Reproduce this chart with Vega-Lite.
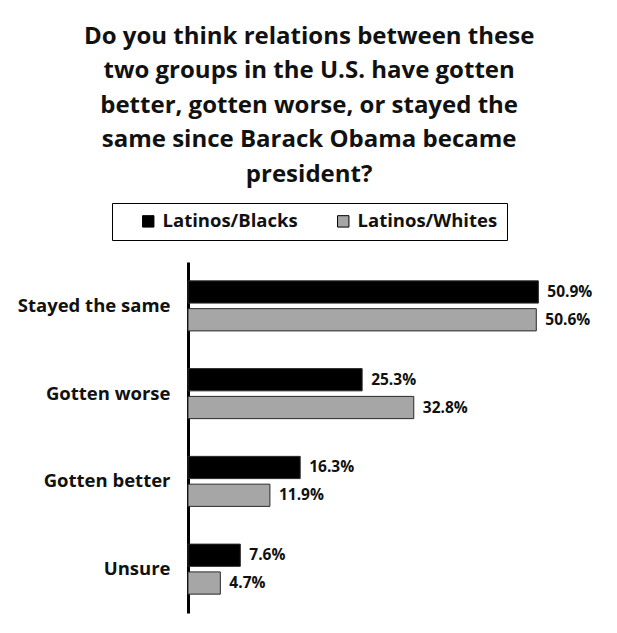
{
  "$schema": "https://vega.github.io/schema/vega-lite/v6.json",
  "width": 413,
  "height": 351,
  "padding": {"left": 17, "top": 24, "right": 5, "bottom": 5},
  "background": "white",
  "title": {
    "text": ["Do you think relations between these", "two groups in the U.S. have gotten", "better, gotten worse, or stayed the", "same since Barack Obama became", "president?"],
    "font": "Open Sans",
    "fontSize": 24,
    "fontWeight": "bold",
    "lineHeight": 34.5,
    "color": "#111111",
    "anchor": "middle",
    "frame": "bounds",
    "offset": 16
  },
  "data": {
    "values": [
      {"response": "Stayed the same", "group": "Latinos/Blacks", "value": 0.509},
      {"response": "Stayed the same", "group": "Latinos/Whites", "value": 0.506},
      {"response": "Gotten worse", "group": "Latinos/Blacks", "value": 0.253},
      {"response": "Gotten worse", "group": "Latinos/Whites", "value": 0.328},
      {"response": "Gotten better", "group": "Latinos/Blacks", "value": 0.163},
      {"response": "Gotten better", "group": "Latinos/Whites", "value": 0.119},
      {"response": "Unsure", "group": "Latinos/Blacks", "value": 0.076},
      {"response": "Unsure", "group": "Latinos/Whites", "value": 0.047}
    ]
  },
  "encoding": {
    "y": {
      "field": "response",
      "type": "nominal",
      "sort": ["Stayed the same", "Gotten worse", "Gotten better", "Unsure"],
      "scale": {"paddingInner": 0.43, "paddingOuter": 0.215},
      "axis": {
        "title": null,
        "ticks": false,
        "domainColor": "#000000",
        "domainWidth": 3,
        "labelFont": "Open Sans",
        "labelFontSize": 18.5,
        "labelFontWeight": "bold",
        "labelColor": "#111111",
        "labelPadding": 18
      }
    },
    "yOffset": {
      "field": "group",
      "type": "nominal",
      "scale": {"paddingInner": 0.2}
    },
    "x": {
      "field": "value",
      "type": "quantitative",
      "scale": {"domain": [0, 0.6]},
      "axis": null
    }
  },
  "layer": [
    {
      "mark": {"type": "bar", "stroke": "#2a2a2a", "strokeWidth": 1},
      "encoding": {
        "color": {
          "field": "group",
          "type": "nominal",
          "scale": {"domain": ["Latinos/Blacks", "Latinos/Whites"], "range": ["#000000", "#a6a6a6"]},
          "legend": {
            "title": null,
            "orient": "none",
            "legendX": -76,
            "legendY": -59,
            "direction": "horizontal",
            "symbolType": "square",
            "symbolSize": 130,
            "symbolOffset": 18,
            "symbolStrokeColor": "#000000",
            "symbolStrokeWidth": 1,
            "labelFont": "Open Sans",
            "labelFontSize": 18.5,
            "labelFontWeight": "bold",
            "labelColor": "#111111",
            "labelOffset": 5,
            "columnPadding": 18,
            "strokeColor": "#000000",
            "padding": 9,
            "fillColor": "white"
          }
        }
      }
    },
    {
      "mark": {"type": "text", "align": "left", "dx": 9, "font": "Open Sans", "fontSize": 15.5, "fontWeight": "bold", "color": "#111111"},
      "encoding": {
        "text": {"field": "value", "type": "quantitative", "format": ".1%"}
      }
    }
  ],
  "config": {
    "view": {"stroke": null}
  }
}
